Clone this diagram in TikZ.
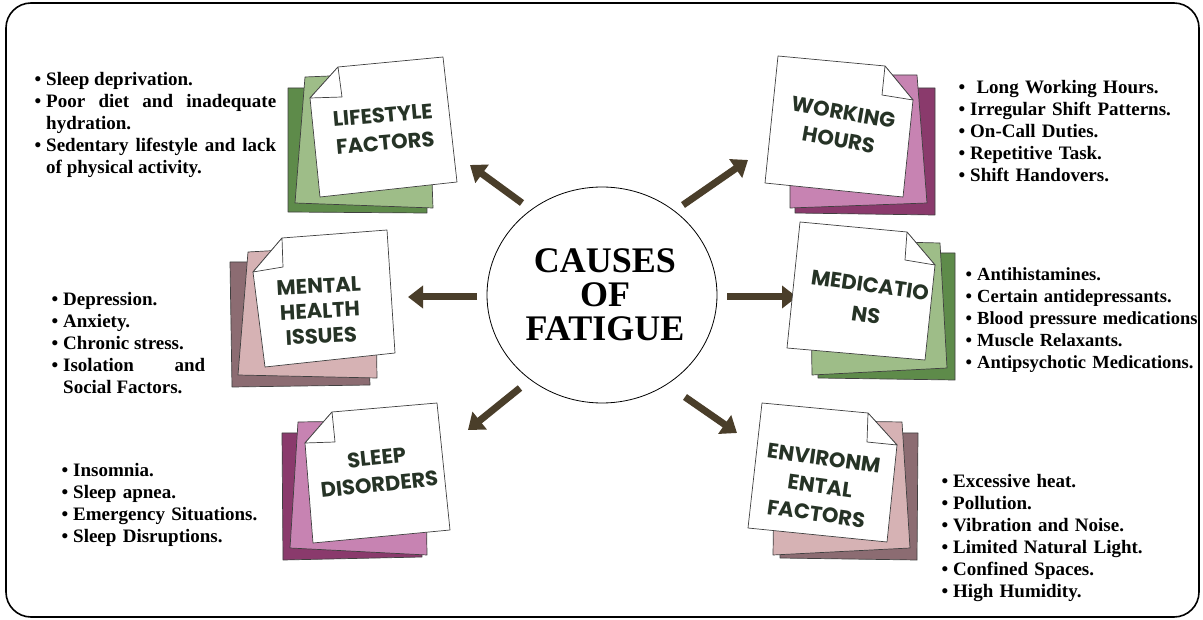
\documentclass[tikz,border=0pt]{standalone}
\usepackage{fontspec}
\setmainfont{Liberation Serif}
\newfontfamily\hand{Poppins}
\usetikzlibrary{arrows.meta,shapes.geometric}
\definecolor{gdark}{HTML}{5E8B4A}
\definecolor{glight}{HTML}{9EBD88}
\definecolor{mdark}{HTML}{8A3A6C}
\definecolor{mlight}{HTML}{C783B2}
\definecolor{rdark}{HTML}{8C6C72}
\definecolor{rlight}{HTML}{D6B2B4}
\definecolor{arrc}{HTML}{4A3E2A}
\definecolor{notetxt}{HTML}{263326}
\newenvironment{bl}{\begin{list}{\textbullet}{\setlength{\leftmargin}{12pt}\setlength{\labelwidth}{7pt}\setlength{\labelsep}{5pt}\setlength{\itemsep}{0pt}\setlength{\parsep}{0pt}\setlength{\topsep}{0pt}\setlength{\partopsep}{0pt}}}{\end{list}}
\hyphenpenalty=10000
\exhyphenpenalty=10000
\tikzset{
  sheet/.style={draw=black!75, line width=0.7pt, line join=round},
  note/.style={font=\hand\bfseries\fontsize{21}{28}\selectfont, text=notetxt, align=center, inner sep=0pt},
  arr/.style={draw=arrc, line width=7pt, -{Triangle[width=22pt,length=15pt]}},
  blist/.style={anchor=north west, inner sep=0pt, align=justify, font=\bfseries\fontsize{19}{22}\selectfont},
}
\begin{document}
\begin{tikzpicture}[x=1pt,y=-1pt]
\useasboundingbox (0,0) rectangle (1203,620);
\fill[white] (0,0) rectangle (1203,620);
\draw[line width=1.6pt, rounded corners=25pt] (6,3) rectangle (1199,617);

% centre
\node[draw, ellipse, line width=0.8pt, minimum width=230pt, minimum height=216pt, inner sep=0pt] (c) at (602,295) {};
\node[font=\bfseries\fontsize{36}{34}\selectfont, align=center, inner sep=0pt] (ct) at (605,295) {CAUSES\\OF\\FATIGUE};

% arrows
\coordinate (a1s) at (522,203); \coordinate (a1e) at (470,165);
\coordinate (a2s) at (683,205); \coordinate (a2e) at (748,160);
\coordinate (a3s) at (477,297); \coordinate (a3e) at (408,297);
\coordinate (a4s) at (727,297); \coordinate (a4e) at (797,297);
\coordinate (a5s) at (520,388); \coordinate (a5e) at (468,430);
\coordinate (a6s) at (685,397); \coordinate (a6e) at (737,433);
\foreach \i in {1,...,6} \draw[arr] (a\i s) -- (a\i e);

% Lifestyle factors
\draw[sheet, fill=gdark] (288,88) -- (425,88) -- (427,213) -- (288,212) -- cycle;
\draw[sheet, fill=glight] (305,77) -- (428,72) -- (433,208) -- (295,203) -- cycle;
\draw[sheet, fill=white] (338,67) -- (443,57) -- (457,182) -- (320,197) -- (310,98) -- cycle;
\draw[sheet, fill=white] (338,67) -- (342,97) -- (310,98) -- cycle;
\node[note, rotate=5] (n1) at (384,129) {LIFESTYLE\\FACTORS};

% Working hours
\draw[sheet, fill=mdark] (795,88) -- (935,88) -- (935,215) -- (795,213) -- cycle;
\draw[sheet, fill=mlight] (790,75) -- (917,75) -- (927,203) -- (790,208) -- cycle;
\draw[sheet, fill=white] (778,56) -- (885,66) -- (913,100) -- (903,197) -- (765,183) -- cycle;
\draw[sheet, fill=white] (885,66) -- (882,95) -- (913,100) -- cycle;
\node[note, rotate=-10] (n2) at (841,126) {WORKING\\HOURS};

% Mental health
\draw[sheet, fill=rdark] (230,262) -- (365,262) -- (370,385) -- (232,387) -- cycle;
\draw[sheet, fill=rlight] (248,252) -- (375,245) -- (377,378) -- (238,375) -- cycle;
\draw[sheet, fill=white] (282,238) -- (387,230) -- (395,353) -- (265,367) -- (253,272) -- cycle;
\draw[sheet, fill=white] (282,238) -- (283,267) -- (253,272) -- cycle;
\node[note, rotate=3, font=\hand\bfseries\fontsize{21}{25}\selectfont] (n3) at (320,311) {MENTAL\\HEALTH\\ISSUES};

% Medications
\draw[sheet, fill=gdark] (818,253) -- (955,253) -- (955,380) -- (818,378) -- cycle;
\draw[sheet, fill=glight] (810,240) -- (940,243) -- (947,368) -- (812,375) -- cycle;
\draw[sheet, fill=white] (800,222) -- (907,232) -- (935,265) -- (925,360) -- (787,348) -- cycle;
\draw[sheet, fill=white] (907,232) -- (905,260) -- (935,265) -- cycle;
\node[note, rotate=-8, font=\hand\bfseries\fontsize{21}{30}\selectfont] (n4) at (868,300) {MEDICATIO\\NS};

% Sleep disorders
\draw[sheet, fill=mdark] (282,433) -- (420,433) -- (422,557) -- (283,560) -- cycle;
\draw[sheet, fill=mlight] (298,422) -- (425,420) -- (427,555) -- (290,548) -- cycle;
\draw[sheet, fill=white] (332,412) -- (437,403) -- (450,530) -- (313,543) -- (305,443) -- cycle;
\draw[sheet, fill=white] (332,412) -- (335,442) -- (305,443) -- cycle;
\node[note, rotate=6, font=\hand\bfseries\fontsize{21}{27}\selectfont] (n5) at (378,471) {SLEEP\\DISORDERS};

% Environmental factors
\draw[sheet, fill=rdark] (780,433) -- (918,433) -- (917,560) -- (780,558) -- cycle;
\draw[sheet, fill=rlight] (775,420) -- (902,422) -- (910,548) -- (773,555) -- cycle;
\draw[sheet, fill=white] (762,403) -- (868,413) -- (897,445) -- (887,542) -- (748,528) -- cycle;
\draw[sheet, fill=white] (868,413) -- (867,442) -- (897,445) -- cycle;
\node[note, rotate=-8] (n6) at (820,486) {ENVIRONM\\ENTAL\\FACTORS};

% lists
\node[blist, text width=242pt] (l1) at (34,63) {\begin{bl}
\item Sleep deprivation.
\item Poor diet and inadequate hydration.
\item Sedentary lifestyle and lack of physical activity.
\end{bl}};
\node[blist, text width=300pt, align=left] (l2) at (958,71) {\begin{bl}
\item \ Long Working Hours.
\item Irregular Shift Patterns.
\item On-Call Duties.
\item Repetitive Task.
\item Shift Handovers.
\end{bl}};
\node[blist, text width=154pt] (l3) at (51,283) {\begin{bl}
\item Depression.
\item Anxiety.
\item Chronic stress.
\item Isolation and Social Factors.
\end{bl}};
\node[blist, text width=320pt, align=left, font=\bfseries\fontsize{18.5}{22}\selectfont] (l4) at (965,258) {\begin{bl}
\item Antihistamines.
\item Certain antidepressants.
\item Blood pressure medications
\item Muscle Relaxants.
\item Antipsychotic Medications.
\end{bl}};
\node[blist, text width=250pt, align=left] (l5) at (61,454) {\begin{bl}
\item Insomnia.
\item Sleep apnea.
\item Emergency Situations.
\item Sleep Disruptions.
\end{bl}};
\node[blist, text width=250pt, align=left] (l6) at (941,465) {\begin{bl}
\item Excessive heat.
\item Pollution.
\item Vibration and Noise.
\item Limited Natural Light.
\item Confined Spaces.
\item High Humidity.
\end{bl}};
\end{tikzpicture}
\end{document}
